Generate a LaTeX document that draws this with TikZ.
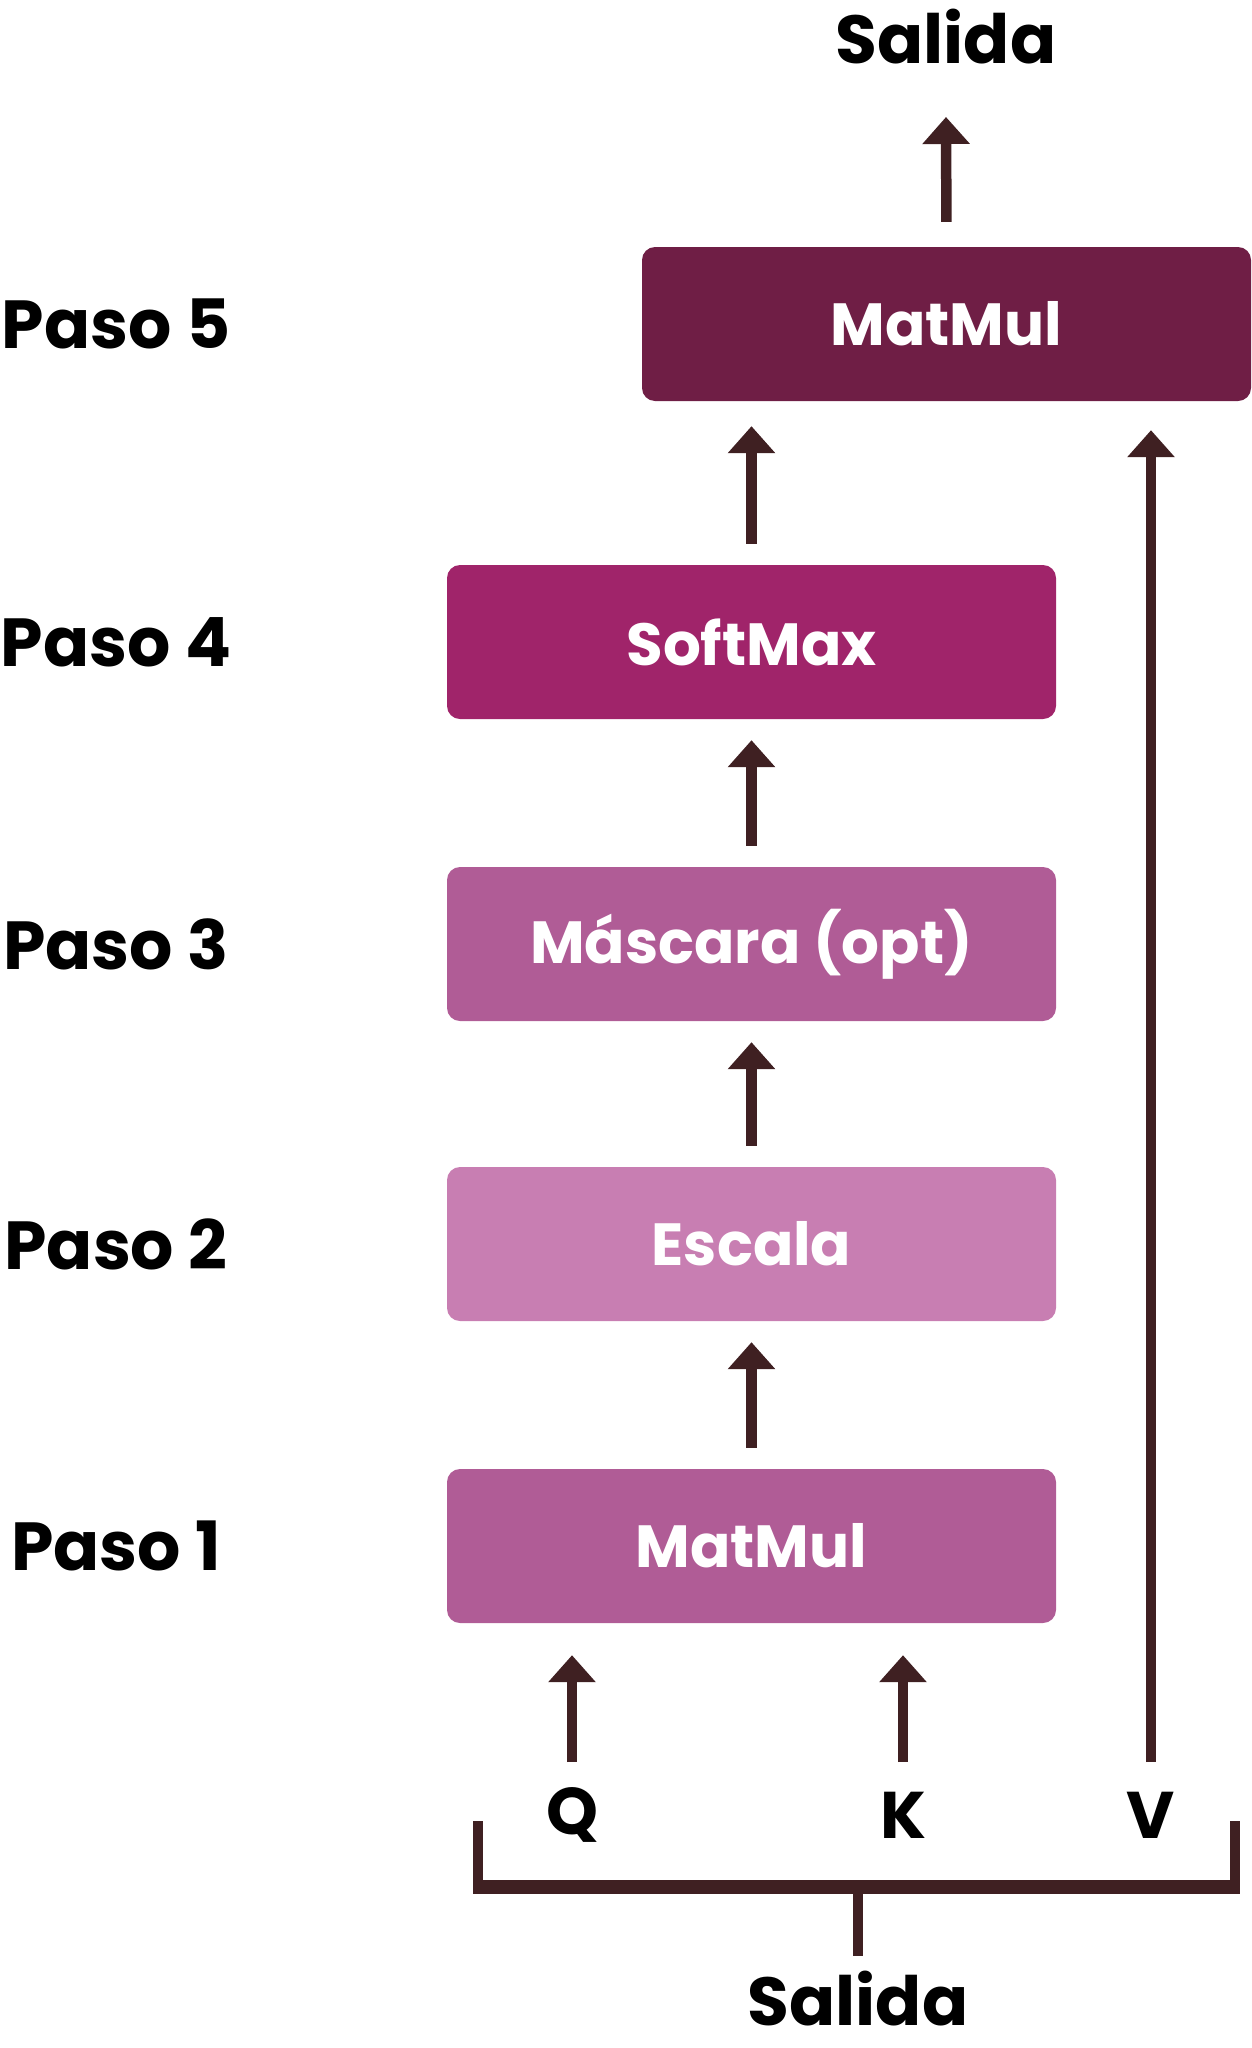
\documentclass[tikz,border=0pt]{standalone}
\usepackage{fontspec}
\setmainfont{Poppins}
\usetikzlibrary{arrows.meta}
\definecolor{arrowc}{HTML}{3F2022}
\definecolor{cfive}{HTML}{6F1E45}
\definecolor{cfour}{HTML}{A0246A}
\definecolor{cthree}{HTML}{B05C96}
\definecolor{ctwo}{HTML}{C87EB2}
\definecolor{cone}{HTML}{B05C96}
\begin{document}
\begin{tikzpicture}[x=1pt,y=-1pt,
  box/.style={rounded corners=13pt, minimum height=154pt, text=white, font=\fontsize{59.5}{66}\selectfont\bfseries, inner sep=0pt},
  smallbox/.style={box, minimum width=609pt},
  lbl/.style={font=\fontsize{68}{76}\selectfont\bfseries, text=black, inner sep=0pt},
  arr/.style={draw=arrowc, line width=10.5pt, -{Triangle[width=46pt,length=27pt]}},
  brk/.style={draw=arrowc, line width=10pt}]
\useasboundingbox (0,0) rectangle (1252,2048);
% boxes
\node[box, fill=cfive, minimum width=609pt] (m5) at (946.5,324) {MatMul};
\node[smallbox, fill=cfour] (sm) at (751.5,642) {SoftMax};
\node[smallbox, fill=cthree] (ma) at (751.5,944) {Máscara (opt)};
\node[smallbox, fill=ctwo] (es) at (751.5,1244) {Escala};
\node[smallbox, fill=cone] (m1) at (751.5,1546) {MatMul};
% step labels
\node[lbl] (p5) at (116,324) {Paso 5};
\node[lbl] (p4) at (116,642) {Paso 4};
\node[lbl] (p3) at (116,944) {Paso 3};
\node[lbl] (p2) at (116,1244) {Paso 2};
\node[lbl] (p1) at (116,1546) {Paso 1};
% outputs and inputs
\node[lbl] (out) at (946,37) {Salida};
\node[lbl] (outb) at (858,1999) {Salida};
\node[lbl, font=\fontsize{66}{74}\selectfont\bfseries] (q) at (572,1815) {Q};
\node[lbl, font=\fontsize{66}{74}\selectfont\bfseries] (k) at (903,1815) {K};
\node[lbl, font=\fontsize{66}{74}\selectfont\bfseries] (v) at (1151,1815) {V};
% arrows between boxes
\draw[arr, shorten <=25pt] (m5.north) -- (946,117);
\draw[arr, shorten <=21pt, shorten >=25pt] (sm.north) -- (sm.north |- m5.south);
\draw[arr, shorten <=21pt, shorten >=21pt] (ma.north) -- (sm.south);
\draw[arr, shorten <=21pt, shorten >=21pt] (es.north) -- (ma.south);
\draw[arr, shorten <=21pt, shorten >=21pt] (m1.north) -- (es.south);
% inputs
\coordinate (qa) at (572,1762);
\coordinate (ka) at (903,1762);
\coordinate (va) at (1151,1762);
\draw[arr, shorten >=32pt] (qa) -- (qa |- m1.south);
\draw[arr, shorten >=32pt] (ka) -- (ka |- m1.south);
\draw[arr, shorten >=29pt] (va) -- (va |- m5.south);
% bracket
\coordinate (bl) at (478,1821);
\coordinate (br) at (1235,1821);
\coordinate (bm) at (858,1887);
\draw[brk] (bl) -- (bl |- bm);
\draw[brk] (br) -- (br |- bm);
\draw[draw=arrowc, line width=14pt] ([xshift=-5pt]bl |- bm) -- ([xshift=5pt]br |- bm);
\draw[brk] (bm) -- (858,1956);
\end{tikzpicture}
\end{document}
